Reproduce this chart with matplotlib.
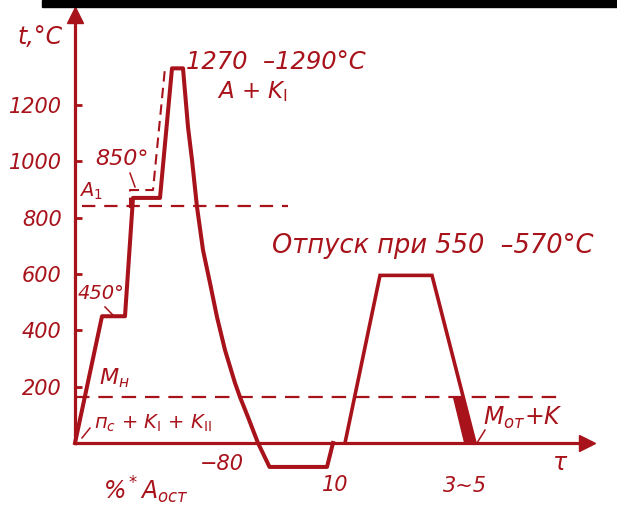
# Heat treatment schedule for high-speed steel: hardening + tempering
import numpy as np
import matplotlib.pyplot as plt
from matplotlib.patches import Rectangle

RED = '#a8121a'

# hardening cycle: heating with two preheats, soaking, cooling, cold treatment
hard_time = [0, 2.7, 5.0, 5.8, 8.5, 9.7, 10.8,
             11.3, 11.7, 12.2, 12.8, 13.5, 14.2, 15.0, 16.0, 16.5, 17.3, 18.3,
             19.45, 25.2, 25.8]
hard_temp = [0, 450, 450, 870, 870, 1330, 1330,
             1122, 1005, 838, 685, 568, 447, 330, 213, 163, 92, 0,
             -85, -85, 0]

# tempering cycle
temper_time = [27.0, 30.5, 35.7, 40.0]
temper_temp = [0, 595, 595, 0]

# filled wedge on the tempering cooling branch
wedge_time = [37.8, 38.8, 40.0, 38.9]
wedge_temp = [160, 160, 0, 0]

# dashed outline of the heating path
outline_time = [5.5, 5.5, 7.8, 9.0]
outline_temp = [834, 898, 898, 1331]

a1_temp = 840
a1_span = [0.7, 21.3]
mn_temp = 165
mn_span = [0, 48.2]

yticks = [200, 400, 600, 800, 1000, 1200]
x_end = 51.2
y_end = 1519

fig = plt.figure(figsize=(6.17, 5.15), dpi=100)
ax = fig.add_axes([0, 0, 1, 1])
ax.set_xlim(-7.5, 54.2)
ax.set_ylim(-255.6, 1572.6)
ax.patch.set_alpha(0)

# axes through the origin
for side in ['top', 'right']:
    ax.spines[side].set_visible(False)
ax.spines['left'].set_position(('data', 0))
ax.spines['bottom'].set_position(('data', 0))
ax.spines['left'].set_bounds(0, y_end - 20)
ax.spines['bottom'].set_bounds(0, x_end - 0.8)
for side in ['left', 'bottom']:
    ax.spines[side].set_color(RED)
    ax.spines[side].set_linewidth(2.3)
ax.plot(0, y_end, marker='^', ms=11, color=RED, clip_on=False)
ax.plot(x_end, 0, marker='>', ms=11, color=RED, clip_on=False)

ax.set_xticks([])
ax.set_yticks(yticks)
ax.tick_params(axis='y', direction='in', length=5, width=2, color=RED,
               pad=9.5, labelcolor=RED, labelsize=15)
for lab in ax.get_yticklabels():
    lab.set_fontstyle('italic')

# curves
ax.plot(hard_time, hard_temp, color=RED, lw=2.9, solid_joinstyle='round')
ax.plot(temper_time, temper_temp, color=RED, lw=2.6, solid_joinstyle='miter')
ax.fill(wedge_time, wedge_temp, color=RED, lw=0)
ax.plot(outline_time, outline_temp, color=RED, lw=1.5, dashes=(5, 3))
ax.plot(a1_span, [a1_temp, a1_temp], color=RED, lw=1.6, dashes=(6, 4))
ax.plot(mn_span, [mn_temp, mn_temp], color=RED, lw=1.6, dashes=(6.5, 4))

# leader lines
leaders = [([5.5, 6.0], [958, 909]),
           ([3.0, 3.8], [483, 454]),
           ([0.7, 1.5], [18, 53]),
           ([40.2, 41.0], [0, 46])]
for lt, lT in leaders:
    ax.plot(lt, lT, color=RED, lw=1.1)

txt = dict(color=RED, style='italic', ha='center', va='center')
ax.text(-3.5, 1442, 't,°C', fontsize=17, **txt)
ax.text(20.1, 1352, '1270  \u20131290°C', fontsize=17.5, **txt)
ax.text(17.7, 1247, 'A + K$_\\mathrm{I}$', fontsize=16.5, **txt)
ax.text(4.7, 1008, '850°', fontsize=16, **txt)
ax.text(1.6, 893, 'A$_1$', fontsize=14, **txt)
ax.text(2.6, 529, '450°', fontsize=14, **txt)
ax.text(3.9, 231, 'M$_\\mathit{н}$', fontsize=16, **txt)
ax.text(7.8, 71, 'п$_\\mathit{с}$ + K$_\\mathrm{I}$ + K$_\\mathrm{II}$', fontsize=14, **txt)
ax.text(14.7, -75, '\u221280', fontsize=15, **txt)
ax.text(7.1, -167, '%$^*$A$_\\mathit{ост}$', fontsize=17, **txt)
ax.text(26.0, -149, '10', fontsize=15, **txt)
ax.text(39.0, -153, '3~5', fontsize=15, **txt)
ax.text(48.5, -71, 'τ', fontsize=17, **txt)
ax.text(35.8, 699, 'Отпуск при 550  \u2013570°С', fontsize=18.5, **txt)
ax.text(44.8, 89, 'M$_\\mathit{от}$+K', fontsize=17, **txt)

# dark strip at the top of the scan
fig.patches.append(Rectangle((42 / 617, 1 - 7 / 515), 575 / 617, 7 / 515,
                             transform=fig.transFigure, color='black', zorder=10))

fig.savefig('out.png', dpi=100)
